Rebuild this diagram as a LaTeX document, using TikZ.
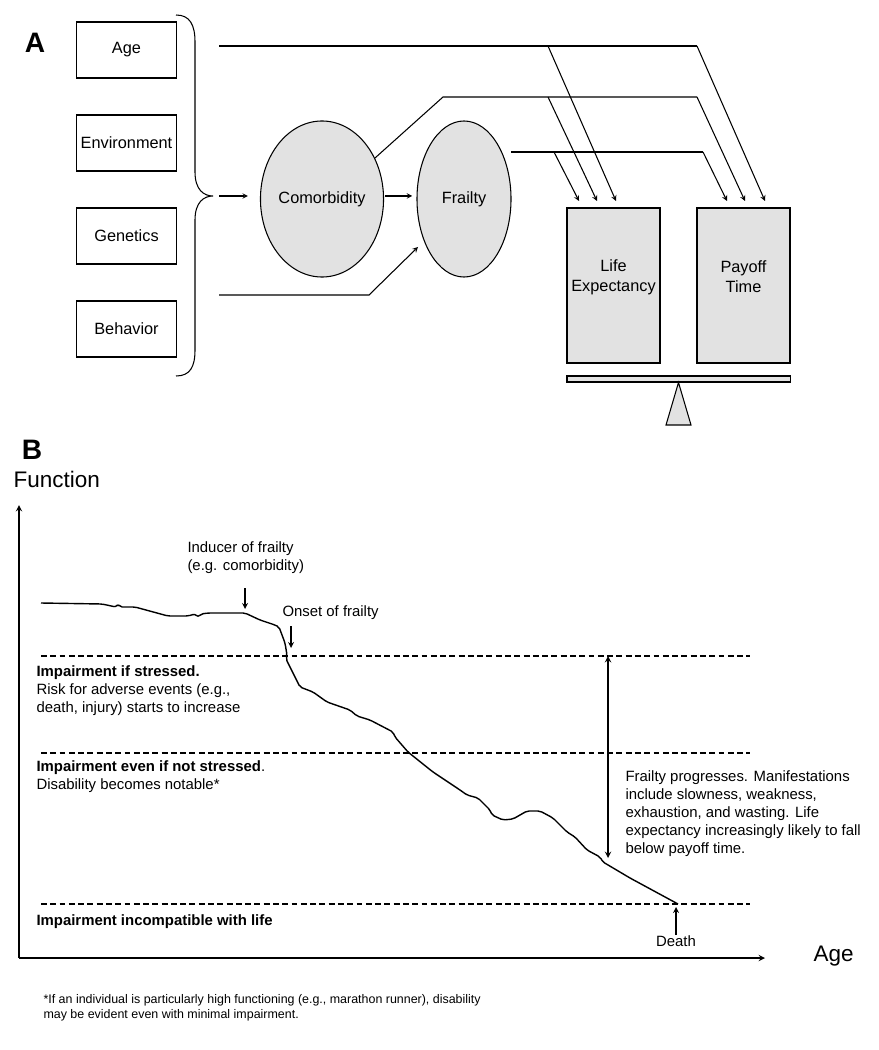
\documentclass[tikz,border=0pt]{standalone}
\usepackage{fontspec}
\setmainfont{Liberation Sans}
\usetikzlibrary{shapes.geometric}

\begin{document}
\begin{tikzpicture}[x=0.025cm, y=-0.025cm, line width=0.75pt, >=stealth,
	factor/.style={draw, inner sep=0pt, minimum width=2.5cm, minimum height=1.4cm,
		font=\fontsize{11.6}{14}\selectfont},
	blob/.style={draw, fill=fillgray, ellipse, inner sep=0pt, minimum width=2.35cm,
		minimum height=3.9cm, font=\fontsize{11.6}{14}\selectfont},
	pan/.style={draw, fill=fillgray, inner sep=0pt, minimum width=2.325cm, minimum height=3.875cm},
	pantext/.style={align=center, font=\fontsize{11.6}{14.2}\selectfont},
	note/.style={align=left, inner sep=0pt, font=\fontsize{10.6}{12.8}\selectfont},
	level/.style={dash pattern=on 4.2pt off 2.4pt}
]
	\definecolor{fillgray}{RGB}{226, 226, 226}
	\useasboundingbox (0, 0) rectangle (879, 1050);

	% \feedline#from#to -- one arrow into the top of a pan
	\def\feedline#1#2{
		\draw[->] (#1) -- (#2);
	}

	% panel A
	\node[font=\fontsize{20}{20}\selectfont\bfseries] (panA) at (35, 43) {A};

	\node[factor] (age)   at (126.5, 50)  {Age};
	\node[factor] (envir) at (126.5, 143) {Environment};
	\node[factor] (genet) at (126.5, 236) {Genetics};
	\node[factor] (behav) at (126.5, 329) {Behavior};

	% brace
	\draw (176, 15) .. controls (190, 15) and (195, 25) .. (195, 42) -- (195, 172)
		.. controls (195, 190) and (204, 196) .. (213, 196)
		.. controls (204, 196) and (195, 202) .. (195, 220) -- (195, 350)
		.. controls (195, 367) and (190, 376) .. (176, 376);
	\coordinate (bracetip) at (219, 196);

	\node[blob] (comorb)  at (322, 199) {Comorbidity};
	\node[blob] (frailty) at (464, 199) {Frailty};

	\draw[->] (bracetip) -- ([xshift=-8.5pt]comorb.west |- bracetip);
	\draw[->] ([xshift=1pt]comorb.east |- bracetip) -- ([xshift=-3pt]frailty.west |- bracetip);

	\node[pan] (lifeexp) at (613.5, 285.5) {};
	\node[pan] (payoff)  at (743.5, 285.5) {};
	\node[pantext] (letext) at (613.5, 277) {Life\\Expectancy};
	\node[pantext] (pttext) at (743.5, 277) {Payoff\\Time};

	% scale
	\node[draw, fill=fillgray, inner sep=0pt, minimum width=5.575cm, minimum height=0.15cm] (beam) at (678.5, 379) {};
	\filldraw[fill=fillgray] (beam.south) -- (666, 425) -- (691, 425) -- cycle;

	% age line
	\coordinate (agefrom) at (219, 46);
	\coordinate (agebend) at (697, 46);
	\coordinate (agesplit) at (548, 46);
	\coordinate (agele) at (616, 201);
	\coordinate (agept) at (765, 201);
	\draw (agefrom) -- (agebend);
	\feedline{agebend}{agept}
	\feedline{agesplit}{agele}

	% comorbidity line
	\coordinate (cmfrom) at (375, 158);
	\coordinate (cmknee) at (443, 97);
	\coordinate (cmbend) at (697, 97);
	\coordinate (cmsplit) at (548, 97);
	\coordinate (cmle) at (597, 201);
	\coordinate (cmpt) at (745, 201);
	\draw (cmfrom) -- (cmknee) -- (cmbend);
	\feedline{cmbend}{cmpt}
	\feedline{cmsplit}{cmle}

	% frailty line
	\coordinate (frfrom) at (511, 152);
	\coordinate (frbend) at (703, 152);
	\coordinate (frsplit) at (554, 152);
	\coordinate (frle) at (579, 201);
	\coordinate (frpt) at (727, 201);
	\draw (frfrom) -- (frbend);
	\feedline{frbend}{frpt}
	\feedline{frsplit}{frle}

	% behavior line
	\coordinate (bhfrom) at (219, 295);
	\coordinate (bhknee) at (369, 295);
	\coordinate (bhto) at (418, 247);
	\draw[->] (bhfrom) -- (bhknee) -- (bhto);

	% panel B
	\node[font=\fontsize{20}{20}\selectfont\bfseries] (panB) at (32, 450) {B};
	\node[anchor=west, inner sep=0pt, font=\fontsize{16}{16}\selectfont] (fnlabel) at (13, 479) {Function};
	\node[anchor=west, inner sep=0pt, font=\fontsize{16}{16}\selectfont] (agelabel) at (813, 956) {Age};

	% axes
	\coordinate (origin) at (19, 958);
	\coordinate (ytop) at (19, 505);
	\coordinate (xend) at (765, 958);
	\draw[->, line width=1pt] (origin) -- (ytop);
	\draw[->, line width=1pt] (origin) -- (xend);

	% levels
	\draw[level] (41, 656) -- (750, 656);
	\draw[level] (41, 753) -- (750, 753);
	\draw[level] (41, 904) -- (750, 904);

	% function over age
	\draw[line width=1pt, line join=round, rounded corners=1.5pt] (41, 603) -- (102, 604) -- (116, 607) -- (118, 604)
		-- (120, 607) -- (135, 607) -- (168, 616) -- (188, 616) -- (195, 614) -- (198, 617)
		-- (201, 614) -- (208, 613) -- (245, 613) -- (260, 620) -- (275, 625) -- (279, 627)
		-- (285, 643) -- (287, 655) -- (286, 659) -- (290, 667) -- (300, 687) -- (313, 692)
		-- (327, 702) -- (350, 710) -- (357, 716) -- (370, 720) -- (393, 732) -- (395, 737)
		-- (408, 752) -- (433, 772) -- (460, 790) -- (467, 795) -- (478, 798) -- (490, 810)
		-- (492, 815) -- (503, 820) -- (513, 819) -- (527, 811) -- (540, 811) -- (553, 818)
		-- (567, 832) -- (575, 837) -- (587, 850) -- (600, 857) -- (603, 862) -- (630, 878)
		-- (678, 904);

	% markers
	\node[note, anchor=north west] (inducer) at (187, 541) {Inducer of frailty\\(e.g. comorbidity)};
	\coordinate (indtop) at (245, 588);
	\coordinate (indtip) at (245, 609);
	\draw[->, line width=0.9pt] (indtop) -- (indtip);

	\node[note, anchor=west] (onset) at (282, 613) {Onset of frailty};
	\coordinate (onsettop) at (291, 626);
	\coordinate (onsettip) at (291, 648);
	\draw[->, line width=0.9pt] (onsettop) -- (onsettip);

	\node[note, anchor=north] (death) at (676, 935) {Death};
	\draw[->, line width=0.9pt] (death.north) -- (676, 907);

	\coordinate (progtop) at (608, 656);
	\coordinate (progbot) at (608, 858);
	\draw[<->, line width=1pt] (progtop) -- (progbot);

	% texts
	\node[note, anchor=north west] (stressed) at (36, 665)
		{\textbf{Impairment if stressed.}\\Risk for adverse events (e.g.,\\death, injury) starts to increase};
	\node[note, anchor=north west] (notstressed) at (36, 760)
		{\textbf{Impairment even if not stressed}.\\Disability becomes notable*};
	\node[note, anchor=west] (incompat) at (36, 922) {\textbf{Impairment incompatible with life}};
	\node[note, anchor=north west] (progress) at (625, 770)
		{Frailty progresses. Manifestations\\include slowness, weakness,\\exhaustion, and wasting. Life\\expectancy increasingly likely to fall\\below payoff time.};
	\node[note, anchor=north west, font=\fontsize{8.85}{10.3}\selectfont] (footnote) at (43, 994)
		{*If an individual is particularly high functioning (e.g., marathon runner), disability\\may be evident even with minimal impairment.};
\end{tikzpicture}
\end{document}
